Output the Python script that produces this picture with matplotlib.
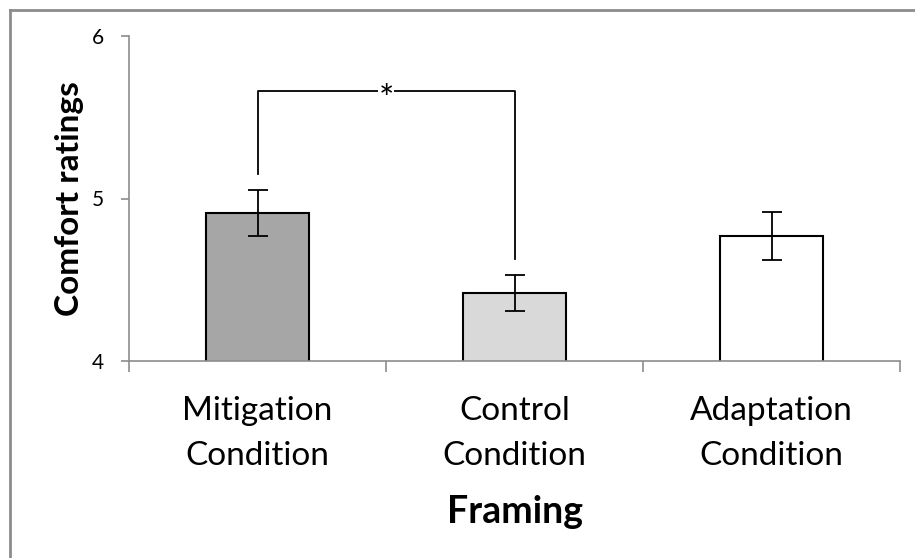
import numpy as np
import matplotlib.pyplot as plt
from matplotlib.lines import Line2D

conditions = ["Mitigation\nCondition", "Control\nCondition", "Adaptation\nCondition"]
means = [4.91, 4.42, 4.77]
errors = [0.14, 0.11, 0.15]
bar_colors = ["#A6A6A6", "#D9D9D9", "#FFFFFF"]

plt.rcParams['font.family'] = ['Lato', 'DejaVu Sans']

W, H = 915, 558
fig = plt.figure(figsize=(W / 100, H / 100), dpi=100)
ax = fig.add_axes([129 / W, 1 - 361 / H, (900 - 129) / W, (361 - 36) / H])

x = np.arange(len(conditions))
ax.bar(x, means, width=0.4, color=bar_colors, edgecolor="black", linewidth=1.5, zorder=2)
ax.errorbar(x, means, yerr=errors, fmt="none", ecolor="black", elinewidth=1.3,
            capsize=7, capthick=1.3, zorder=3)

ax.set_xlim(-0.5, 2.5)
ax.set_ylim(4, 6)
ax.set_yticks([4, 5, 6])
ax.tick_params(axis="y", length=6, width=1.2, color="#8C8C8C", labelsize=15, pad=12)
ax.set_xticks(x)
ax.set_xticklabels(conditions, fontsize=24, linespacing=1.65)
ax.tick_params(axis="x", length=0, pad=25)
ax.set_xticks([-0.5, 0.5, 1.5, 2.5], minor=True)
ax.tick_params(axis="x", which="minor", length=8, width=1.2, color="#8C8C8C")

for s in ["top", "right"]:
    ax.spines[s].set_visible(False)
for s in ["left", "bottom"]:
    ax.spines[s].set_color("#8C8C8C")
    ax.spines[s].set_linewidth(1.2)

ax.set_ylabel("Comfort ratings", fontsize=24, fontweight="bold", labelpad=6)
ax.set_xlabel("Framing", fontsize=27, fontweight="bold", labelpad=17)

# significance bracket
y_top = 5.66
ax.plot([0, 0, 1, 1], [5.15, y_top, y_top, 4.63], color="black", linewidth=1.3, zorder=3)
ax.text(0.5, y_top - 0.055, "*", ha="center", va="center", fontsize=26,
        bbox=dict(facecolor="white", edgecolor="none", pad=0), zorder=4)

# outer frame (left and top edges)
fig.add_artist(Line2D([10 / W, 10 / W], [0, 1 - 10 / H], color="#8C8C8C", linewidth=2))
fig.add_artist(Line2D([10 / W, 1], [1 - 10 / H, 1 - 10 / H], color="#8C8C8C", linewidth=2))

fig.savefig("out.png", dpi=100)
